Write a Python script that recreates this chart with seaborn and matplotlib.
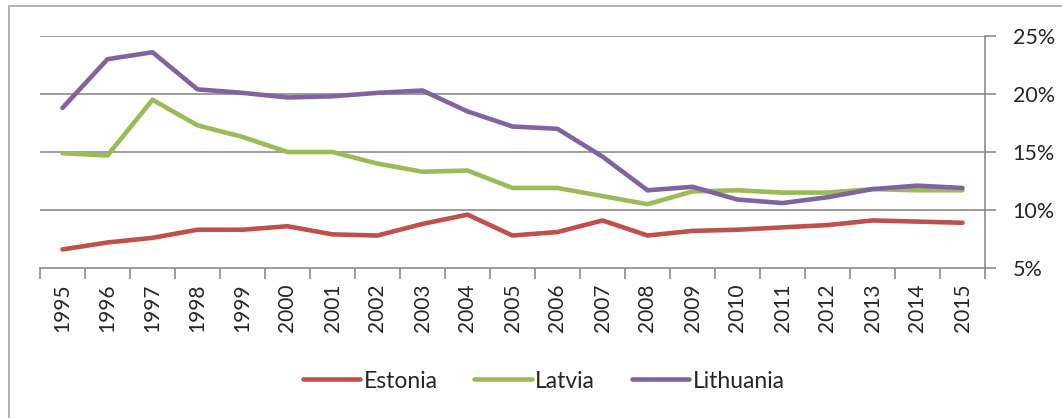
import matplotlib
matplotlib.use("Agg")
import matplotlib.pyplot as plt
import matplotlib.patches as mpatches
import pandas as pd
import seaborn as sns

years = list(range(1995, 2016))
estonia = [6.6, 7.2, 7.6, 8.3, 8.3, 8.6, 7.9, 7.8, 8.8, 9.6, 7.8,
           8.1, 9.1, 7.8, 8.2, 8.3, 8.5, 8.7, 9.1, 9.0, 8.9]
latvia = [14.9, 14.7, 19.5, 17.3, 16.3, 15.0, 15.0, 14.0, 13.3, 13.4, 11.9,
          11.9, 11.2, 10.5, 11.6, 11.7, 11.5, 11.5, 11.8, 11.7, 11.7]
lithuania = [18.8, 23.0, 23.6, 20.4, 20.1, 19.7, 19.8, 20.1, 20.3, 18.5, 17.2,
             17.0, 14.6, 11.7, 12.0, 10.9, 10.6, 11.1, 11.8, 12.1, 11.9]
countries = ["Estonia", "Latvia", "Lithuania"]
colors = ["#C0504D", "#9BBB59", "#8064A2"]
y_ticks = [5, 10, 15, 20, 25]

df = pd.DataFrame({"year": years, "Estonia": estonia,
                   "Latvia": latvia, "Lithuania": lithuania})
long_df = df.melt(id_vars="year", var_name="country", value_name="value")

sns.set_style("white")
plt.rcParams["font.family"] = ["Lato", "DejaVu Sans"]

fig = plt.figure(figsize=(10.62, 4.18), dpi=100)
ax = fig.add_axes([40 / 1062, 1 - 268 / 418, 945 / 1062, 232 / 418])

# chart area border
fig.patches.append(mpatches.Rectangle((9 / 1062, -0.1), 1.2, 1 - 6 / 418 + 0.1,
                                      transform=fig.transFigure, fill=False,
                                      edgecolor="#A6A6A6", linewidth=1.2))

for y in y_ticks[1:]:
    ax.axhline(y, color="#8C8C8C", linewidth=1.2, zorder=0)

sns.lineplot(data=long_df, x="year", y="value", hue="country",
             hue_order=countries, palette=colors, linewidth=3.3,
             ax=ax, legend=False)

ax.set_xlim(1994.5, 2015.5)
ax.set_ylim(5, 25)
ax.set_xlabel("")
ax.set_ylabel("")

# tick marks between categories, labels at the centres
ax.set_xticks([y - 0.5 for y in years] + [2015.5])
ax.set_xticklabels([])
ax.set_xticks(years, minor=True)
ax.set_xticklabels([str(y) for y in years], minor=True, rotation=90,
                   fontsize=15)
ax.tick_params(axis="x", which="major", length=8, width=1.2,
               color="#8C8C8C", direction="out", bottom=True)
ax.tick_params(axis="x", which="minor", length=0, pad=11)

ax.yaxis.tick_right()
ax.set_yticks(y_ticks)
ax.set_yticklabels([f"{v}%" for v in y_ticks], fontsize=15.5)
ax.tick_params(axis="y", length=8, width=1.2, color="#8C8C8C",
               direction="out", right=True, pad=12)

for side in ["top", "left"]:
    ax.spines[side].set_visible(False)
for side in ["right", "bottom"]:
    ax.spines[side].set_color("#8C8C8C")
    ax.spines[side].set_linewidth(1.2)

handles = [plt.Line2D([], [], color=c, linewidth=3.3) for c in colors]
fig.legend(handles, countries, loc="center", ncol=3, frameon=False,
           bbox_to_anchor=(0.512, 1 - 381 / 418), fontsize=16.5,
           handlelength=2.5, handletextpad=0.15, columnspacing=1.6)

fig.savefig("out.png", dpi=100)
